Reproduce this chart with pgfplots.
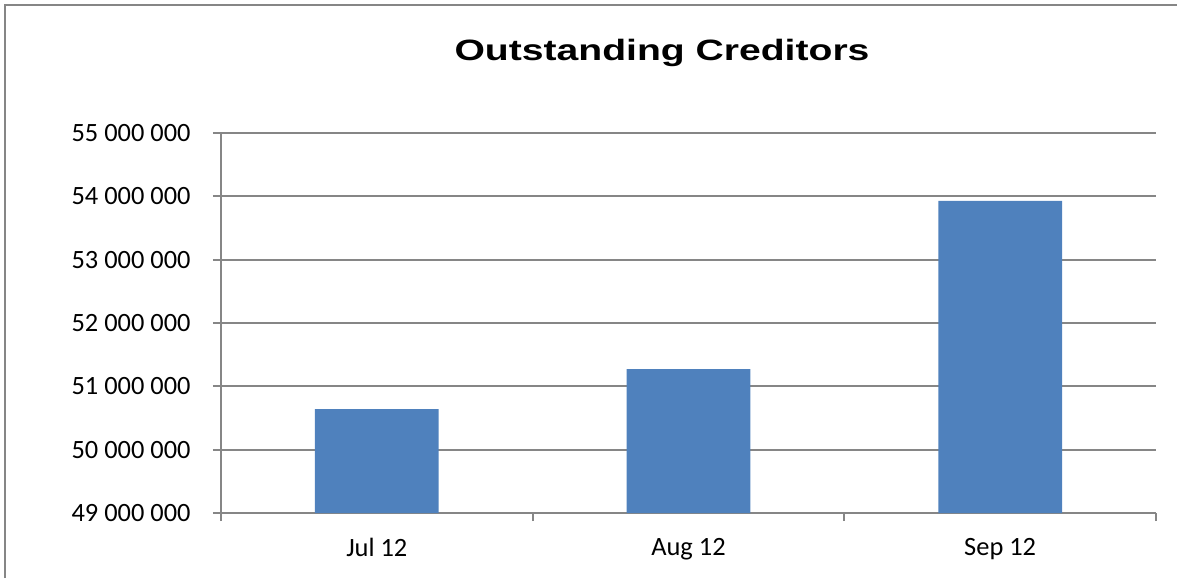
\documentclass[border=0pt]{standalone}
\usepackage{fontspec}
\setmainfont{Carlito}
\newfontfamily\titlefont[FakeStretch=1.33]{Liberation Sans}
\usepackage{pgfplots}
\pgfplotsset{compat=1.18}

\definecolor{barblue}{RGB}{79,129,189}
\definecolor{gridgray}{RGB}{134,134,134}

% 1 px of the reference = 0.5pt
\begin{document}
\begin{tikzpicture}
  \begin{axis}[
    scale only axis,
    width=467.5pt,
    height=190pt,
    axis lines*=left,
    axis line style={gridgray, line width=1pt},
    xmin=-0.5, xmax=2.5,
    ymin=49000000, ymax=55000000,
    ytick distance=1000000,
    scaled y ticks=false,
    ymajorgrids,
    grid style={gridgray, line width=1pt},
    tick align=outside,
    major tick length=4pt,
    tick style={gridgray, line width=1pt},
    xtick={-0.5,0.5,1.5,2.5},
    xticklabels={},
    extra x ticks={0,1,2},
    extra x tick labels={Jul 12,Aug 12,Sep 12},
    extra x tick style={major tick length=0pt, grid=none},
    xticklabel style={font=\fontsize{13.2}{16}\selectfont, anchor=north, inner sep=0pt, yshift=-12.5pt},
    yticklabel style={font=\fontsize{13.2}{16}\selectfont, anchor=east, inner sep=0pt, xshift=-11pt,
      /pgf/number format/.cd, fixed, precision=0, 1000 sep={\ }, assume math mode=true},
    ybar,
    bar width=0.397,
    clip=false,
  ]
    \addplot[fill=barblue, draw=none] coordinates {
      (0,50640000)
      (1,51270000)
      (2,53930000)
    };
  \end{axis}
  % chart frame (only top and left edges fall inside the picture)
  \draw[gridgray, line width=1pt] (-107.75pt,-32.5pt) -- (-107.75pt,253.75pt) -- (478pt,253.75pt);
  \node[anchor=base, inner sep=0pt] at (220.5pt,226pt)
    {\titlefont\bfseries\fontsize{14.7}{18}\selectfont Outstanding Creditors};
  \useasboundingbox (-110.5pt,-32.5pt) rectangle (483pt,256.5pt);
\end{tikzpicture}
\end{document}
